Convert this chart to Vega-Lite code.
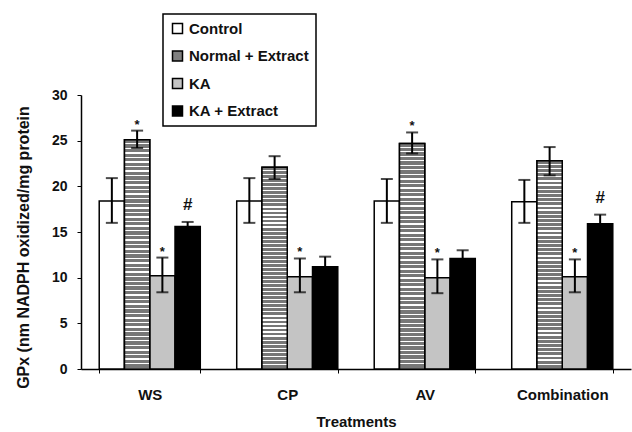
{
  "$schema": "https://vega.github.io/schema/vega-lite/v6.json",
  "width": 550,
  "height": 274,
  "autosize": "none",
  "padding": {"left": 81, "top": 95, "right": 1, "bottom": 63},
  "background": "white",
  "config": {
    "view": {"stroke": null},
    "font": "Liberation Sans",
    "axis": {"grid": false, "domainColor": "black", "tickColor": "black", "labelColor": "#111", "titleColor": "#111", "labelFont": "Liberation Sans", "titleFont": "Liberation Sans", "labelFontWeight": "bold", "titleFontWeight": "bold"}
  },
  "data": {
    "values": [
      {"treatment": "WS", "group": "Control", "value": 18.4, "lo": 16.0, "hi": 20.9, "ann": ""},
      {"treatment": "WS", "group": "Normal + Extract", "value": 25.1, "lo": 24.2, "hi": 26.1, "ann": "*"},
      {"treatment": "WS", "group": "KA", "value": 10.2, "lo": 8.4, "hi": 12.2, "ann": "*"},
      {"treatment": "WS", "group": "KA + Extract", "value": 15.6, "lo": 15.1, "hi": 16.1, "ann": "#"},
      {"treatment": "CP", "group": "Control", "value": 18.4, "lo": 16.0, "hi": 20.9, "ann": ""},
      {"treatment": "CP", "group": "Normal + Extract", "value": 22.1, "lo": 20.8, "hi": 23.3, "ann": ""},
      {"treatment": "CP", "group": "KA", "value": 10.1, "lo": 8.4, "hi": 12.1, "ann": "*"},
      {"treatment": "CP", "group": "KA + Extract", "value": 11.2, "lo": 10.1, "hi": 12.3, "ann": ""},
      {"treatment": "AV", "group": "Control", "value": 18.4, "lo": 16.0, "hi": 20.8, "ann": ""},
      {"treatment": "AV", "group": "Normal + Extract", "value": 24.7, "lo": 23.6, "hi": 25.9, "ann": "*"},
      {"treatment": "AV", "group": "KA", "value": 10.0, "lo": 8.3, "hi": 12.0, "ann": "*"},
      {"treatment": "AV", "group": "KA + Extract", "value": 12.1, "lo": 11.2, "hi": 13.0, "ann": ""},
      {"treatment": "Combination", "group": "Control", "value": 18.3, "lo": 16.0, "hi": 20.7, "ann": ""},
      {"treatment": "Combination", "group": "Normal + Extract", "value": 22.8, "lo": 21.2, "hi": 24.3, "ann": ""},
      {"treatment": "Combination", "group": "KA", "value": 10.1, "lo": 8.4, "hi": 12.0, "ann": "*"},
      {"treatment": "Combination", "group": "KA + Extract", "value": 15.9, "lo": 15.0, "hi": 16.9, "ann": "#"}
    ]
  },
  "encoding": {
    "x": {
      "field": "treatment", "type": "nominal",
      "sort": ["WS", "CP", "AV", "Combination"],
      "scale": {"paddingInner": 0.265, "paddingOuter": 0.1325},
      "axis": {"title": "Treatments", "labelAngle": 0, "labelFontSize": 15, "titleFontSize": 15, "tickSize": 4, "tickBand": "extent", "labelPadding": 14, "titlePadding": 12, "domainWidth": 1.5}
    },
    "xOffset": {
      "field": "group", "type": "nominal",
      "scale": {"domain": ["Control", "Normal + Extract", "KA", "KA + Extract"], "paddingInner": 0, "paddingOuter": 0}
    }
  },
  "layer": [
    {
      "mark": {"type": "bar", "stroke": "black", "strokeWidth": 1.5, "fillOpacity": 1},
      "encoding": {
        "y": {
          "field": "value", "type": "quantitative",
          "scale": {"domain": [0, 30], "nice": false},
          "axis": {"title": "GPx (nm NADPH oxidized/mg protein", "values": [0, 5, 10, 15, 20, 25, 30], "labelFontSize": 14, "titleFontSize": 16, "tickSize": 4, "labelPadding": 10, "titlePadding": 20, "titleY": 152, "domainWidth": 1.5}
        },
        "fill": {
          "field": "group", "type": "nominal",
          "scale": {"domain": ["Control", "Normal + Extract", "KA", "KA + Extract"], "range": ["white", "#808080", "#c4c4c4", "black"]},
          "legend": {
            "title": null, "orient": "none", "legendX": 82, "legendY": -81,
            "strokeColor": "black", "padding": 7,
            "symbolType": "square", "symbolSize": 100, "symbolStrokeColor": "black", "symbolStrokeWidth": 1.5,
            "labelFontSize": 15, "labelFontWeight": "bold", "labelFont": "Liberation Sans", "labelColor": "#111",
            "labelOffset": 4, "rowPadding": 10.5,
            "encode": {
              "legend": {"update": {"strokeWidth": {"value": 1.5}}},
              "symbols": {"update": {"stroke": {"value": "black"}, "strokeWidth": {"value": 1.5}, "opacity": {"value": 1}}}
            }
          }
        }
      }
    },
    {
      "transform": [{"filter": "datum.group === 'Normal + Extract'"}],
      "mark": {
        "type": "bar", "stroke": "black", "strokeWidth": 1.5,
        "fill": {"gradient": "linear", "x1": 0, "y1": 0, "x2": 0, "y2": 1, "stops": [
          {"offset":0,"color":"#777"},{"offset":0.014,"color":"#777"},{"offset":0.014,"color":"#fff"},{"offset":0.02,"color":"#fff"},
          {"offset":0.02,"color":"#777"},{"offset":0.034,"color":"#777"},{"offset":0.034,"color":"#fff"},{"offset":0.04,"color":"#fff"},
          {"offset":0.04,"color":"#777"},{"offset":0.054,"color":"#777"},{"offset":0.054,"color":"#fff"},{"offset":0.06,"color":"#fff"},
          {"offset":0.06,"color":"#777"},{"offset":0.074,"color":"#777"},{"offset":0.074,"color":"#fff"},{"offset":0.08,"color":"#fff"},
          {"offset":0.08,"color":"#777"},{"offset":0.094,"color":"#777"},{"offset":0.094,"color":"#fff"},{"offset":0.1,"color":"#fff"},
          {"offset":0.1,"color":"#777"},{"offset":0.114,"color":"#777"},{"offset":0.114,"color":"#fff"},{"offset":0.12,"color":"#fff"},
          {"offset":0.12,"color":"#777"},{"offset":0.134,"color":"#777"},{"offset":0.134,"color":"#fff"},{"offset":0.14,"color":"#fff"},
          {"offset":0.14,"color":"#777"},{"offset":0.154,"color":"#777"},{"offset":0.154,"color":"#fff"},{"offset":0.16,"color":"#fff"},
          {"offset":0.16,"color":"#777"},{"offset":0.174,"color":"#777"},{"offset":0.174,"color":"#fff"},{"offset":0.18,"color":"#fff"},
          {"offset":0.18,"color":"#777"},{"offset":0.194,"color":"#777"},{"offset":0.194,"color":"#fff"},{"offset":0.2,"color":"#fff"},
          {"offset":0.2,"color":"#777"},{"offset":0.214,"color":"#777"},{"offset":0.214,"color":"#fff"},{"offset":0.22,"color":"#fff"},
          {"offset":0.22,"color":"#777"},{"offset":0.234,"color":"#777"},{"offset":0.234,"color":"#fff"},{"offset":0.24,"color":"#fff"},
          {"offset":0.24,"color":"#777"},{"offset":0.254,"color":"#777"},{"offset":0.254,"color":"#fff"},{"offset":0.26,"color":"#fff"},
          {"offset":0.26,"color":"#777"},{"offset":0.274,"color":"#777"},{"offset":0.274,"color":"#fff"},{"offset":0.28,"color":"#fff"},
          {"offset":0.28,"color":"#777"},{"offset":0.294,"color":"#777"},{"offset":0.294,"color":"#fff"},{"offset":0.3,"color":"#fff"},
          {"offset":0.3,"color":"#777"},{"offset":0.314,"color":"#777"},{"offset":0.314,"color":"#fff"},{"offset":0.32,"color":"#fff"},
          {"offset":0.32,"color":"#777"},{"offset":0.334,"color":"#777"},{"offset":0.334,"color":"#fff"},{"offset":0.34,"color":"#fff"},
          {"offset":0.34,"color":"#777"},{"offset":0.354,"color":"#777"},{"offset":0.354,"color":"#fff"},{"offset":0.36,"color":"#fff"},
          {"offset":0.36,"color":"#777"},{"offset":0.374,"color":"#777"},{"offset":0.374,"color":"#fff"},{"offset":0.38,"color":"#fff"},
          {"offset":0.38,"color":"#777"},{"offset":0.394,"color":"#777"},{"offset":0.394,"color":"#fff"},{"offset":0.4,"color":"#fff"},
          {"offset":0.4,"color":"#777"},{"offset":0.414,"color":"#777"},{"offset":0.414,"color":"#fff"},{"offset":0.42,"color":"#fff"},
          {"offset":0.42,"color":"#777"},{"offset":0.434,"color":"#777"},{"offset":0.434,"color":"#fff"},{"offset":0.44,"color":"#fff"},
          {"offset":0.44,"color":"#777"},{"offset":0.454,"color":"#777"},{"offset":0.454,"color":"#fff"},{"offset":0.46,"color":"#fff"},
          {"offset":0.46,"color":"#777"},{"offset":0.474,"color":"#777"},{"offset":0.474,"color":"#fff"},{"offset":0.48,"color":"#fff"},
          {"offset":0.48,"color":"#777"},{"offset":0.494,"color":"#777"},{"offset":0.494,"color":"#fff"},{"offset":0.5,"color":"#fff"},
          {"offset":0.5,"color":"#777"},{"offset":0.514,"color":"#777"},{"offset":0.514,"color":"#fff"},{"offset":0.52,"color":"#fff"},
          {"offset":0.52,"color":"#777"},{"offset":0.534,"color":"#777"},{"offset":0.534,"color":"#fff"},{"offset":0.54,"color":"#fff"},
          {"offset":0.54,"color":"#777"},{"offset":0.554,"color":"#777"},{"offset":0.554,"color":"#fff"},{"offset":0.56,"color":"#fff"},
          {"offset":0.56,"color":"#777"},{"offset":0.574,"color":"#777"},{"offset":0.574,"color":"#fff"},{"offset":0.58,"color":"#fff"},
          {"offset":0.58,"color":"#777"},{"offset":0.594,"color":"#777"},{"offset":0.594,"color":"#fff"},{"offset":0.6,"color":"#fff"},
          {"offset":0.6,"color":"#777"},{"offset":0.614,"color":"#777"},{"offset":0.614,"color":"#fff"},{"offset":0.62,"color":"#fff"},
          {"offset":0.62,"color":"#777"},{"offset":0.634,"color":"#777"},{"offset":0.634,"color":"#fff"},{"offset":0.64,"color":"#fff"},
          {"offset":0.64,"color":"#777"},{"offset":0.654,"color":"#777"},{"offset":0.654,"color":"#fff"},{"offset":0.66,"color":"#fff"},
          {"offset":0.66,"color":"#777"},{"offset":0.674,"color":"#777"},{"offset":0.674,"color":"#fff"},{"offset":0.68,"color":"#fff"},
          {"offset":0.68,"color":"#777"},{"offset":0.694,"color":"#777"},{"offset":0.694,"color":"#fff"},{"offset":0.7,"color":"#fff"},
          {"offset":0.7,"color":"#777"},{"offset":0.714,"color":"#777"},{"offset":0.714,"color":"#fff"},{"offset":0.72,"color":"#fff"},
          {"offset":0.72,"color":"#777"},{"offset":0.734,"color":"#777"},{"offset":0.734,"color":"#fff"},{"offset":0.74,"color":"#fff"},
          {"offset":0.74,"color":"#777"},{"offset":0.754,"color":"#777"},{"offset":0.754,"color":"#fff"},{"offset":0.76,"color":"#fff"},
          {"offset":0.76,"color":"#777"},{"offset":0.774,"color":"#777"},{"offset":0.774,"color":"#fff"},{"offset":0.78,"color":"#fff"},
          {"offset":0.78,"color":"#777"},{"offset":0.794,"color":"#777"},{"offset":0.794,"color":"#fff"},{"offset":0.8,"color":"#fff"},
          {"offset":0.8,"color":"#777"},{"offset":0.814,"color":"#777"},{"offset":0.814,"color":"#fff"},{"offset":0.82,"color":"#fff"},
          {"offset":0.82,"color":"#777"},{"offset":0.834,"color":"#777"},{"offset":0.834,"color":"#fff"},{"offset":0.84,"color":"#fff"},
          {"offset":0.84,"color":"#777"},{"offset":0.854,"color":"#777"},{"offset":0.854,"color":"#fff"},{"offset":0.86,"color":"#fff"},
          {"offset":0.86,"color":"#777"},{"offset":0.874,"color":"#777"},{"offset":0.874,"color":"#fff"},{"offset":0.88,"color":"#fff"},
          {"offset":0.88,"color":"#777"},{"offset":0.894,"color":"#777"},{"offset":0.894,"color":"#fff"},{"offset":0.9,"color":"#fff"},
          {"offset":0.9,"color":"#777"},{"offset":0.914,"color":"#777"},{"offset":0.914,"color":"#fff"},{"offset":0.92,"color":"#fff"},
          {"offset":0.92,"color":"#777"},{"offset":0.934,"color":"#777"},{"offset":0.934,"color":"#fff"},{"offset":0.94,"color":"#fff"},
          {"offset":0.94,"color":"#777"},{"offset":0.954,"color":"#777"},{"offset":0.954,"color":"#fff"},{"offset":0.96,"color":"#fff"},
          {"offset":0.96,"color":"#777"},{"offset":0.974,"color":"#777"},{"offset":0.974,"color":"#fff"},{"offset":0.98,"color":"#fff"},
          {"offset":0.98,"color":"#777"},{"offset":0.994,"color":"#777"},{"offset":0.994,"color":"#fff"},{"offset":1,"color":"#fff"}
        ]}
      },
      "encoding": {
        "y": {"field": "value", "type": "quantitative"}
      }
    },
    {
      "mark": {"type": "rule", "color": "black", "strokeWidth": 2},
      "encoding": {
        "y": {"field": "lo", "type": "quantitative"},
        "y2": {"field": "hi"}
      }
    },
    {
      "mark": {"type": "tick", "color": "black", "size": 12, "thickness": 2, "orient": "horizontal"},
      "encoding": {
        "y": {"field": "hi", "type": "quantitative"}
      }
    },
    {
      "mark": {"type": "tick", "color": "black", "size": 12, "thickness": 2, "orient": "horizontal"},
      "encoding": {
        "y": {"field": "lo", "type": "quantitative"}
      }
    },
    {
      "transform": [{"filter": "datum.ann === '*'"}],
      "mark": {"type": "text", "color": "#111", "fontSize": 13, "fontWeight": "bold", "baseline": "bottom", "dy": 1, "font": "Liberation Sans"},
      "encoding": {
        "y": {"field": "hi", "type": "quantitative"},
        "text": {"field": "ann"}
      }
    },
    {
      "transform": [{"filter": "datum.ann === '#'"}],
      "mark": {"type": "text", "color": "#111", "fontSize": 17, "fontWeight": "bold", "baseline": "bottom", "dy": -8, "font": "Liberation Sans"},
      "encoding": {
        "y": {"field": "hi", "type": "quantitative"},
        "text": {"field": "ann"}
      }
    }
  ]
}
